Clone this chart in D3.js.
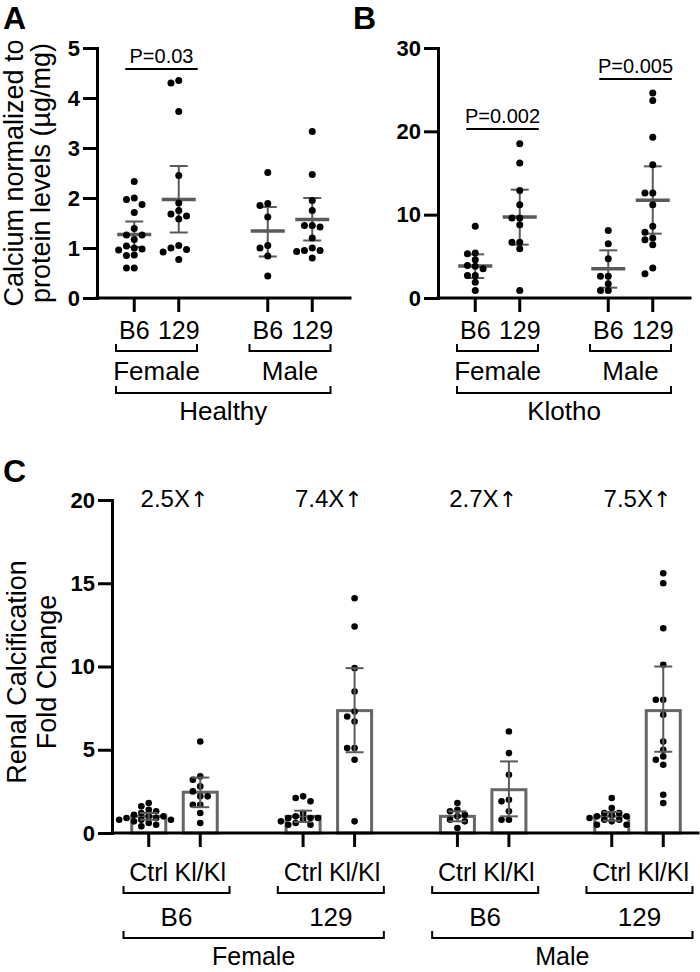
<!DOCTYPE html>
<html><head><meta charset="utf-8">
<script src="https://cdn.jsdelivr.net/npm/d3@7"></script>
<style>body{margin:0;background:#fff} svg{display:block}</style>
</head><body>
<svg id="chart" width="700" height="972"></svg>
<script>
// ---------------- DATA ----------------
const sexes = ["Female", "Male"];
const strains = ["B6", "129"];

// Panel A (Healthy) – calcium normalized to protein (µg/mg); order F-B6, F-129, M-B6, M-129
const A_B6_F  = [2.33, 2.0, 1.97, 1.87, 1.71, 1.39, 1.26, 1.26, 1.17, 1.04, 1.0, 0.98, 0.96, 0.86, 0.85, 0.6, 0.6];
const A_129_F = [4.35, 4.3, 3.73, 2.45, 1.9, 1.75, 1.68, 1.64, 1.58, 1.05, 1.0, 0.97, 0.92, 0.77];
const A_B6_M  = [2.51, 1.89, 1.85, 1.62, 1.05, 1.0, 0.84, 0.44];
const A_129_M = [3.33, 2.47, 1.95, 1.75, 1.45, 1.45, 1.42, 1.2, 1.0, 0.95, 0.95, 0.93, 0.8];
const aMeans = [1.27, 1.97, 1.34, 1.57];
const aUpper = [1.53, 2.64, 1.82, 2.0];
const aLower = [1.02, 1.31, 0.83, 1.15];
const aTicks = [0, 1, 2, 3, 4, 5];
const aPLabels = ["P=0.03"];
const aPSex = ["Female"];
const aPLevel = [4.58];

// Panel B (Klotho)
const B_B6_F  = [8.6, 5.4, 5.3, 4.6, 3.9, 3.8, 3.5, 2.7, 2.7, 1.9, 0.9];
const B_129_F = [18.5, 16.2, 12.9, 11.2, 9.6, 9.6, 8.8, 6.7, 6.7, 5.9, 0.9];
const B_B6_M  = [8.1, 6.5, 4.7, 2.6, 2.6, 1.7, 0.9, 0.9];
const B_129_M = [24.6, 23.7, 19.3, 16.0, 12.6, 12.6, 11.2, 8.6, 7.9, 7.2, 7.0, 6.4, 3.6, 2.9];
const bMeans = [3.84, 9.72, 3.52, 11.72];
const bUpper = [5.24, 13.0, 5.72, 15.8];
const bLower = [2.4, 6.4, 1.24, 7.72];
const bTicks = [0, 10, 20, 30];
const bPLabels = ["P=0.002", "P=0.005"];
const bPSex = ["Female", "Male"];
const bPLevel = [20.28, 26.28];

// Panel C – renal calcification fold change
const cSubgroups = ["B6 Female", "129 Female", "B6 Male", "129 Male"];
const cStrainLabels = ["B6", "129", "B6", "129"];
const cGenotypes = ["Ctrl", "Kl/Kl"];
const C_B6F_Ctrl  = [1.8, 1.6, 1.4, 1.3, 1.2, 1.1, 1.0, 1.0, 0.9, 0.9, 0.8, 0.8, 0.8, 0.7, 0.6, 0.5, 0.4];
const C_B6F_Kl    = [5.5, 3.4, 3.2, 2.8, 2.5, 2.2, 2.2, 1.7, 1.7, 1.2, 0.6];
const C_129F_Ctrl = [2.2, 2.1, 1.9, 1.2, 1.0, 0.9, 0.9, 0.9, 0.8, 0.7, 0.6, 0.5, 0.5];
const C_129F_Kl   = [14.1, 12.4, 9.9, 8.5, 7.3, 7.0, 6.7, 5.1, 5.1, 4.4, 0.7];
const C_B6M_Ctrl  = [1.8, 1.4, 1.3, 1.1, 1.0, 0.8, 0.7, 0.3];
const C_B6M_Kl    = [6.1, 4.8, 3.5, 2.0, 1.9, 1.3, 0.8, 0.8];
const C_129M_Ctrl = [2.1, 1.5, 1.2, 1.2, 1.1, 1.0, 1.0, 0.9, 0.8, 0.8, 0.7, 0.5, 0.5];
const C_129M_Kl   = [15.6, 15.0, 12.3, 10.1, 8.0, 8.0, 7.1, 5.5, 5.0, 4.6, 4.4, 4.1, 2.3, 1.8];
const cMeans = [1.0, 2.45, 1.0, 7.35, 1.0, 2.6, 1.0, 7.35];
const cUpper = [1.2, 3.33, 1.34, 9.9, 1.3, 4.3, 1.26, 10.0];
const cLower = [0.8, 1.55, 0.66, 4.85, 0.7, 1.0, 0.74, 4.88];
const cTicks = [0, 5, 10, 15, 20];
const foldLabels = ["2.5X", "7.4X", "2.7X", "7.5X"];
const foldArrow = "\u2191";

// ---------------- DRAWING ----------------
const FONT = "'Liberation Sans', Arial, Helvetica, sans-serif";
const GRAY = "#5a5a5a", BARGRAY = "#666666";
const svg = d3.select("#chart");

function dodge(vals, y, r) {
  const step = 2 * r + 0.8;
  const order = vals.map((v, i) => i).sort((a, b) => vals[b] - vals[a]);
  const placed = [], out = new Array(vals.length);
  for (const i of order) {
    const py = y(vals[i]);
    let dx = 0;
    for (let k = 0; k < 40; k++) {
      const m = Math.ceil(k / 2) * (k % 2 ? -1 : 1);
      const cx = m * step;
      if (placed.every(p => (p.x - cx) ** 2 + (p.y - py) ** 2 >= (2 * r - 0.4) ** 2)) { dx = cx; break; }
    }
    placed.push({ x: dx, y: py });
    out[i] = { v: vals[i], dx };
  }
  return out;
}

function styleYAxis(ax) {
  ax.attr("font-family", null).attr("font-size", null);
  ax.select(".domain").attr("stroke-width", 3).attr("stroke-linecap", "square");
  ax.selectAll(".tick line").attr("stroke-width", 3);
  ax.selectAll(".tick text").attr("fill", "#000")
    .style("font-family", FONT).style("font-size", "22px").style("font-weight", "bold");
}

function label(g, x, y, txt, size, anchor, weight) {
  return g.append("text").attr("x", x).attr("y", y).text(txt)
    .style("font-family", FONT).style("font-size", size + "px")
    .attr("text-anchor", anchor || "middle").style("font-weight", weight || "normal").attr("fill", "#000");
}

function bracket(g, x1, x2, yb, h) {
  g.append("path").attr("d", `M${x1},${yb - h}V${yb}H${x2}V${yb - h}`)
    .attr("fill", "none").attr("stroke", "#000").attr("stroke-width", 2);
}

function scatterPanel(o) {
  const g = svg.append("g");
  const y = d3.scaleLinear().domain([0, o.ticks[o.ticks.length - 1]]).range([o.yBottom, o.yTop]);
  const outer = d3.scalePoint().domain(sexes).range(o.outerRange);
  const inner = d3.scalePoint().domain(strains).range([-22.25, 22.25]);
  const keys = sexes.flatMap(s => strains.map(st => ({ s, st })));
  const xOf = k => outer(k.s) + inner(k.st);

  // P-value annotations
  o.pLabels.forEach((p, i) => {
    const x1 = outer(o.pSex[i]) + inner(strains[0]) - 9, x2 = outer(o.pSex[i]) + inner(strains[1]) + 19;
    g.append("line").attr("x1", x1).attr("x2", x2).attr("y1", y(o.pLevel[i])).attr("y2", y(o.pLevel[i]))
      .attr("stroke", "#000").attr("stroke-width", 2);
    label(g, (x1 + x2) / 2, y(o.pLevel[i]) - 6, p, 20);
  });

  // error bars + means
  keys.forEach((k, i) => {
    const cx = xOf(k);
    const eg = g.append("g").attr("stroke", GRAY);
    eg.append("line").attr("x1", cx).attr("x2", cx).attr("y1", y(o.upper[i])).attr("y2", y(o.lower[i])).attr("stroke-width", 2);
    [o.upper[i], o.lower[i]].forEach(v => eg.append("line").attr("x1", cx - 9).attr("x2", cx + 9).attr("y1", y(v)).attr("y2", y(v)).attr("stroke-width", 2));
    eg.append("line").attr("x1", cx - 17).attr("x2", cx + 17).attr("y1", y(o.means[i])).attr("y2", y(o.means[i])).attr("stroke-width", 3.5);
  });

  // dots
  keys.forEach((k, i) => {
    g.append("g").selectAll("circle").data(dodge(o.values[i], y, 3.5)).join("circle")
      .attr("cx", d => xOf(k) + d.dx).attr("cy", d => y(d.v)).attr("r", 3.5).attr("fill", "#000");
  });

  // axes
  const ax = g.append("g").attr("transform", `translate(${o.xAxis},0)`)
    .call(d3.axisLeft(y).tickValues(o.ticks).tickFormat(d3.format("d")).tickSize(14).tickSizeOuter(0).tickPadding(3));
  styleYAxis(ax);
  g.append("line").attr("x1", o.xAxis).attr("x2", o.xEnd).attr("y1", y(0)).attr("y2", y(0))
    .attr("stroke", "#000").attr("stroke-width", 3).attr("stroke-linecap", "square");
  g.append("g").selectAll("line").data(keys).join("line")
    .attr("x1", xOf).attr("x2", xOf).attr("y1", y(0)).attr("y2", y(0) + 14)
    .attr("stroke", "#000").attr("stroke-width", 3);

  // category labels
  keys.forEach(k => label(g, xOf(k), 339, k.st, 25));
  sexes.forEach(s => {
    bracket(g, outer(s) - 40.5, outer(s) + 40.5, 351, 7);
    label(g, outer(s), 380, s, 26);
  });
  bracket(g, outer(sexes[0]) - 40.5, outer(sexes[1]) + 40.5, 393, 7);
  label(g, (outer(sexes[0]) + outer(sexes[1])) / 2, 420, o.group, 26);

  label(g, o.letterX, 29, o.letter, 32, "start", "bold");
}

scatterPanel({
  letter: "A", letterX: 3, group: "Healthy",
  values: [A_B6_F, A_129_F, A_B6_M, A_129_M], means: aMeans, upper: aUpper, lower: aLower,
  ticks: aTicks, yBottom: 298, yTop: 48, xAxis: 97, xEnd: 350, outerRange: [156.5, 290],
  pLabels: aPLabels, pSex: aPSex, pLevel: aPLevel
});
scatterPanel({
  letter: "B", letterX: 353, group: "Klotho",
  values: [B_B6_F, B_129_F, B_B6_M, B_129_M], means: bMeans, upper: bUpper, lower: bLower,
  ticks: bTicks, yBottom: 298, yTop: 48, xAxis: 438, xEnd: 690, outerRange: [497.5, 630.5],
  pLabels: bPLabels, pSex: bPSex, pLevel: bPLevel
});

// Panel A y-axis title
const ta = svg.append("g").attr("transform", "translate(0,173)");
label(ta, 0, 0, "Calcium normalized to", 27).attr("transform", "translate(23,0) rotate(-90)");
label(ta, 0, 0, "protein levels (\u00b5g/mg)", 27).attr("transform", "translate(50,0) rotate(-90)");

// ---------------- Panel C ----------------
(function () {
  const g = svg.append("g");
  const cValues = [C_B6F_Ctrl, C_B6F_Kl, C_129F_Ctrl, C_129F_Kl, C_B6M_Ctrl, C_B6M_Kl, C_129M_Ctrl, C_129M_Kl];
  const y = d3.scaleLinear().domain([0, 20]).range([833, 500]);
  const outer = d3.scalePoint().domain(cSubgroups).range([174.5, 637.5]);
  const inner = d3.scalePoint().domain(cGenotypes).range([-25.75, 25.75]);
  const keys = cSubgroups.flatMap(sg => cGenotypes.map(gt => ({ sg, gt })));
  const xOf = k => outer(k.sg) + inner(k.gt);

  // bars
  g.append("g").selectAll("rect").data(keys).join("rect")
    .attr("x", k => xOf(k) - 17).attr("width", 34)
    .attr("y", (k, i) => y(cMeans[i])).attr("height", (k, i) => y(0) - y(cMeans[i]))
    .attr("fill", "none").attr("stroke", BARGRAY).attr("stroke-width", 3);

  // dots
  keys.forEach((k, i) => {
    g.append("g").selectAll("circle").data(dodge(cValues[i], y, 3.3)).join("circle")
      .attr("cx", d => xOf(k) + d.dx).attr("cy", d => y(d.v)).attr("r", 3.3).attr("fill", "#000");
  });

  // error bars
  keys.forEach((k, i) => {
    const cx = xOf(k);
    const eg = g.append("g").attr("stroke", GRAY).attr("stroke-width", 2);
    eg.append("line").attr("x1", cx).attr("x2", cx).attr("y1", y(cUpper[i])).attr("y2", y(cLower[i]));
    [cUpper[i], cLower[i]].forEach(v => eg.append("line").attr("x1", cx - 9).attr("x2", cx + 9).attr("y1", y(v)).attr("y2", y(v)));
  });

  // axes
  const ax = g.append("g").attr("transform", "translate(112,0)")
    .call(d3.axisLeft(y).tickValues(cTicks).tickFormat(d3.format("d")).tickSize(14).tickSizeOuter(0).tickPadding(3));
  styleYAxis(ax);
  g.append("line").attr("x1", 112).attr("x2", 698).attr("y1", y(0)).attr("y2", y(0))
    .attr("stroke", "#000").attr("stroke-width", 3).attr("stroke-linecap", "square");
  g.append("g").selectAll("line").data(keys).join("line")
    .attr("x1", xOf).attr("x2", xOf).attr("y1", y(0)).attr("y2", y(0) + 14)
    .attr("stroke", "#000").attr("stroke-width", 3);

  // fold labels
  cSubgroups.forEach((sg, i) => {
    const t = label(g, outer(sg), 507, foldLabels[i], 24);
    t.append("tspan").text(foldArrow).style("font-family", "'DejaVu Sans', sans-serif").style("font-size", "22px");
  });

  // category labels
  keys.forEach(k => label(g, xOf(k), 881, k.gt, 25));
  cSubgroups.forEach((sg, i) => {
    bracket(g, outer(sg) - 51, outer(sg) + 55, 893, 7);
    label(g, outer(sg) + 2, 926, cStrainLabels[i], 26);
  });
  sexes.forEach((s, j) => {
    const a = outer(cSubgroups[2 * j]) - 51, b = outer(cSubgroups[2 * j + 1]) + 55;
    bracket(g, a, b, 938, 7);
    label(g, (a + b) / 2, 965, s, 25);
  });

  // y title
  const tc = g.append("g").attr("transform", "translate(0,672)");
  label(tc, 0, 0, "Renal Calcification", 27).attr("transform", "translate(26,0) rotate(-90)");
  label(tc, 0, 0, "Fold Change", 27).attr("transform", "translate(56,0) rotate(-90)");

  label(g, 3, 482, "C", 32, "start", "bold");
})();
</script>
</body></html>
